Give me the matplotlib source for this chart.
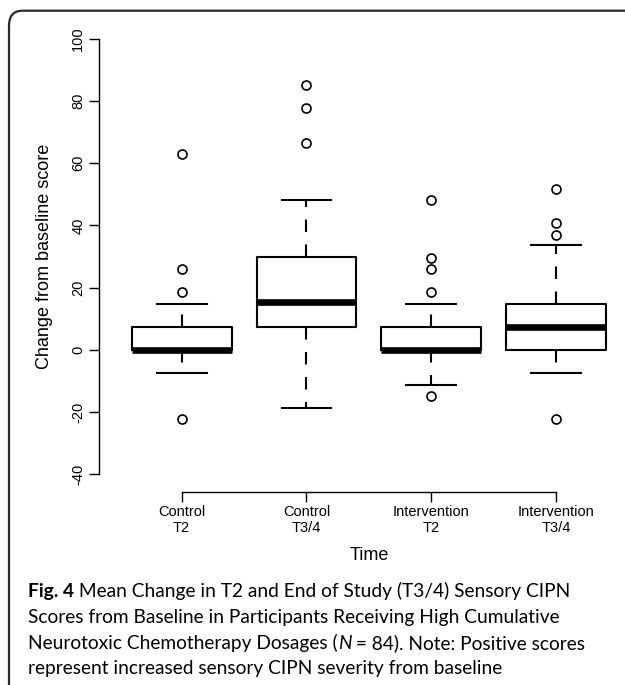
import matplotlib
matplotlib.use("Agg")
import matplotlib.pyplot as plt
from matplotlib.patches import FancyBboxPatch

# box statistics (change from baseline score)
groups = ["Control\nT2", "Control\nT3/4", "Intervention\nT2", "Intervention\nT3/4"]
q1 = [0.0, 7.4, 0.0, 0.0]
med = [0.0, 15.3, 0.0, 7.4]
q3 = [7.4, 29.8, 7.4, 14.9]
whislo = [-7.5, -18.5, -11.2, -7.5]
whishi = [14.9, 48.2, 14.9, 33.7]
fliers = [
    [63.0, 25.9, 18.6, -22.3],
    [85.1, 77.6, 66.5],
    [48.2, 29.4, 25.9, 18.6, -14.9],
    [51.7, 40.7, 36.9, -22.3],
]
yticks = [-40, -20, 0, 20, 40, 60, 80, 100]

W, H = 625, 685
fig = plt.figure(figsize=(W / 100, H / 100), dpi=100)
plt.rcParams['font.family'] = ['Liberation Sans', 'DejaVu Sans']

# panel frame (rounded top-left corner, runs off right/bottom)
frame = FancyBboxPatch((9 / W, -0.05), 1.2, 1 - 10.7 / H + 0.05,
                       boxstyle="round,pad=0,rounding_size=0.022",
                       transform=fig.transFigure, fill=False,
                       edgecolor="#2a2a2a", linewidth=1.6, clip_on=False)
fig.patches.append(frame)

# axes placement in pixels: x axis at 99..638, y axis 21..492
left, right, top, bottom = 99.3, 638.5, 21.3, 491.9
ax = fig.add_axes([left / W, 1 - bottom / H, (right - left) / W, (bottom - top) / H])
ax.set_xlim(0.34, 4.66)
ax.set_ylim(-45.6, 105.6)

stats = []
for i in range(len(groups)):
    stats.append(dict(med=med[i], q1=q1[i], q3=q3[i], whislo=whislo[i],
                      whishi=whishi[i], fliers=fliers[i], label=groups[i]))

ax.bxp(stats, positions=[1, 2, 3, 4], widths=0.8, showfliers=True,
       boxprops=dict(color="black", linewidth=1.5),
       whiskerprops=dict(color="black", linewidth=1.5, linestyle=(0, (6, 6))),
       capprops=dict(color="black", linewidth=1.5),
       medianprops=dict(color="black", linewidth=4.8, solid_capstyle="butt"),
       flierprops=dict(marker="o", markerfacecolor="none", markeredgecolor="black",
                       markersize=6.5, markeredgewidth=1.2),
       capwidths=0.4)

for s in ["top", "right"]:
    ax.spines[s].set_visible(False)
ax.spines["left"].set_bounds(-40, 100)
ax.spines["bottom"].set_bounds(1, 4)
for s in ["left", "bottom"]:
    ax.spines[s].set_linewidth(1.0)

ax.set_yticks(yticks)
ax.set_yticklabels([str(v) for v in yticks], rotation=90, va="center")
ax.set_xticks([1, 2, 3, 4])
ax.set_xticklabels(groups)
ax.tick_params(axis="both", length=7.2, width=1.0, labelsize=10.5)
ax.tick_params(axis="y", pad=3)
ax.tick_params(axis="x", pad=2)

ax.set_ylabel("Change from baseline score", fontsize=13)
ax.yaxis.set_label_coords((45 - left) / (right - left), 0.5)
ax.yaxis.label.set_va("center")
ax.set_xlabel("Time", fontsize=13)
ax.xaxis.set_label_coords((369 - left) / (right - left), (bottom - 555.7) / (bottom - top))
ax.xaxis.label.set_va("center")

# caption, drawn segment by segment so bold / italic parts line up
cap_font = ["Lato", "DejaVu Sans"]
cap_size = 13.8
caption = [
    [("Fig. 4", "bold", "normal"), (" Mean Change in T2 and End of Study (T3/4) Sensory CIPN", "normal", "normal")],
    [("Scores from Baseline in Participants Receiving High Cumulative", "normal", "normal")],
    [("Neurotoxic Chemotherapy Dosages (", "normal", "normal"), ("N", "normal", "italic"),
     (" = 84). Note: Positive scores", "normal", "normal")],
    [("represent increased sensory CIPN severity from baseline", "normal", "normal")],
]
baselines = [597, 623, 649, 674]

fig.canvas.draw()
renderer = fig.canvas.get_renderer()
for line, yb in zip(caption, baselines):
    x = 28
    for txt, weight, style in line:
        t = fig.text(x / W, 1 - yb / H, txt, fontsize=cap_size, family=cap_font,
                     fontweight=weight, fontstyle=style, va="baseline", ha="left")
        bb = t.get_window_extent(renderer)
        x = bb.x1

fig.savefig("out.png", dpi=100)
